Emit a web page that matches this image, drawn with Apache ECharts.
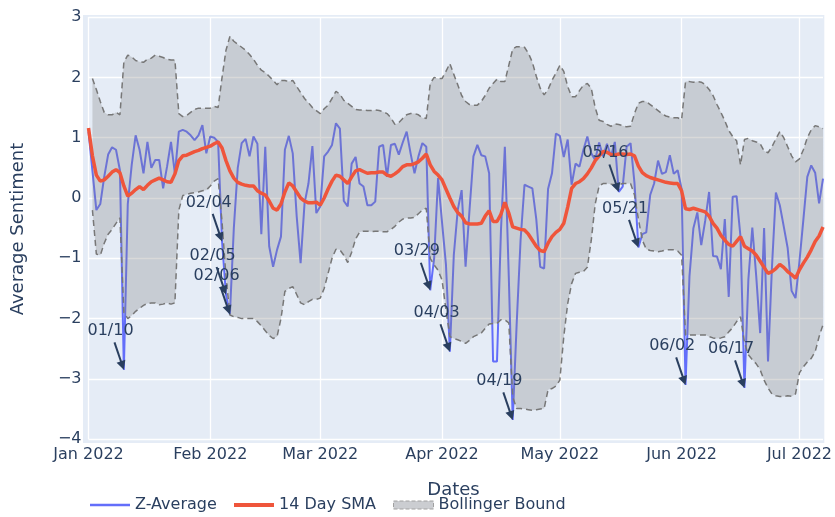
<!DOCTYPE html>
<html><head><meta charset="utf-8">
<script src="https://cdn.jsdelivr.net/npm/echarts@6/dist/echarts.min.js"></script>
<style>html,body{margin:0;padding:0;background:#fff}#c{width:835px;height:517px}</style>
</head><body><div id="c"></div>
<script>
// ---- data (daily, 2022-01-01 .. 2022-07-07) ----
const startYear = 2022, startMonth = 0, startDay = 1, dayCount = 188;

const zAverage = [
 1.1, 0.45, -0.2, -0.1, 0.35, 0.72, 0.84, 0.8, 0.46, -2.85,
 -0.1, 0.55, 1.04, 0.8, 0.41, 0.93, 0.5, 0.63, 0.63, 0.16,
 0.52, 0.93, 0.4, 1.1, 1.13, 1.1, 1.04, 0.96, 1.04, 1.21,
 0.74, 1.02, 1.0, 0.93, -0.72, -1.6, -1.93, -0.5, 0.5, 0.91,
 0.98, 0.69, 1.02, 0.9, -0.6, 0.85, -0.8, -1.14, -0.86, -0.64,
 0.8, 1.03, 0.74, -0.3, -1.08, -0.09, 0.24, 0.86, -0.25, -0.14,
 0.69, 0.77, 0.88, 1.24, 1.15, -0.05, -0.14, 0.57, 0.68, 0.24,
 0.19, -0.12, -0.12, -0.06, 0.85, 0.88, 0.35, 0.88, 0.9, 0.72,
 0.92, 1.1, 0.74, 0.41, 0.69, 0.91, 0.85, -1.53, -1.0, 0.33,
 -0.4, -1.1, -2.55, -0.95, -0.2, 0.13, -1.14, -0.2, 0.69, 0.88,
 0.71, 0.69, 0.41, -2.71, -2.71, -0.55, 0.85, -1.3, -3.68, -2.1,
 -0.7, 0.22, 0.19, 0.16, -0.35, -1.14, -1.17, 0.15, 0.41, 1.07,
 1.03, 0.68, 0.97, 0.22, 0.57, 0.52, 0.8, 1.02, 0.74, 0.63,
 0.92, 0.69, 0.9, 0.69, 0.93, 0.1, 0.19, 0.85, 0.91, 0.25,
 -0.82, -0.6, -0.57, 0.05, 0.24, 0.62, 0.4, 0.43, 0.71, 0.4,
 0.46, 0.15, -3.1, -1.3, -0.5, -0.24, -0.78, -0.38, 0.1, -0.96,
 -0.97, -1.18, -0.35, -1.64, 0.02, 0.03, -0.65, -3.15, -1.35, -0.49,
 -1.3, -2.24, -0.5, -2.71, -1.15, 0.09, -0.12, -0.47, -0.83, -1.54,
 -1.66, -1.05, -0.36, 0.35, 0.54, 0.42, -0.09, 0.32
];

const sma14 = [
 1.16, 0.7, 0.38, 0.28, 0.3, 0.36, 0.43, 0.47, 0.42, 0.2,
 0.03, 0.08, 0.14, 0.19, 0.14, 0.21, 0.27, 0.3, 0.33, 0.3,
 0.27, 0.26, 0.4, 0.62, 0.7, 0.71, 0.74, 0.77, 0.79, 0.82,
 0.84, 0.86, 0.9, 0.93, 0.83, 0.62, 0.45, 0.33, 0.26, 0.23,
 0.21, 0.2, 0.2, 0.12, 0.08, 0.05, -0.05, -0.17, -0.2, -0.1,
 0.1, 0.25, 0.2, 0.1, 0.0, -0.05, -0.08, -0.08, -0.07, -0.12,
 0.0, 0.15, 0.28, 0.38, 0.36, 0.3, 0.24, 0.35, 0.45, 0.47,
 0.44, 0.41, 0.42, 0.42, 0.43, 0.43, 0.38, 0.36, 0.4, 0.45,
 0.52, 0.55, 0.55, 0.57, 0.6, 0.66, 0.73, 0.55, 0.44, 0.38,
 0.3, 0.15, 0.0, -0.14, -0.24, -0.3, -0.41, -0.43, -0.43, -0.43,
 -0.42, -0.3, -0.21, -0.39, -0.39, -0.27, -0.07, -0.25, -0.48, -0.5,
 -0.52, -0.53, -0.6, -0.7, -0.8, -0.87, -0.89, -0.75, -0.64, -0.57,
 -0.52, -0.42, -0.15, 0.16, 0.24, 0.27, 0.32, 0.4, 0.5, 0.62,
 0.7, 0.77, 0.76, 0.72, 0.71, 0.73, 0.73, 0.72, 0.73, 0.7,
 0.53, 0.42, 0.37, 0.34, 0.32, 0.3, 0.28, 0.26, 0.25, 0.24,
 0.24, 0.12, -0.18, -0.19, -0.17, -0.19, -0.21, -0.23, -0.3, -0.42,
 -0.5, -0.62, -0.7, -0.77, -0.8, -0.72, -0.64, -0.8, -0.84, -0.88,
 -0.95, -1.05, -1.15, -1.25, -1.22, -1.17, -1.1, -1.15, -1.22, -1.27,
 -1.33, -1.19, -1.08, -0.98, -0.86, -0.72, -0.63, -0.48
];

const upperBound = [
 null, 1.98, 1.8, 1.6, 1.42, 1.38, 1.38, 1.42, 1.38, 2.25,
 2.37, 2.34, 2.28, 2.26, 2.25, 2.3, 2.32, 2.37, 2.35, 2.33,
 2.3, 2.29, 2.29, 1.4, 1.35, 1.37, 1.42, 1.47, 1.49, 1.49,
 1.49, 1.49, 1.52, 1.5, 2.0, 2.45, 2.68, 2.6, 2.55, 2.5,
 2.45, 2.38, 2.3, 2.2, 2.12, 2.08, 2.02, 1.95, 1.88, 1.95,
 1.95, 1.93, 1.95, 1.85, 1.75, 1.65, 1.58, 1.5, 1.45, 1.4,
 1.48, 1.54, 1.65, 1.77, 1.72, 1.62, 1.57, 1.52, 1.47, 1.46,
 1.46, 1.45, 1.45, 1.46, 1.45, 1.43, 1.4, 1.33, 1.22, 1.25,
 1.32, 1.38, 1.4, 1.4, 1.38, 1.33, 1.32, 1.9, 2.0, 1.98,
 1.98, 2.1, 2.23, 2.05, 1.88, 1.7, 1.6, 1.55, 1.54, 1.54,
 1.6, 1.7, 1.82, 1.9, 1.97, 1.93, 1.93, 2.2, 2.47, 2.51,
 2.51, 2.5, 2.4, 2.25, 2.02, 1.82, 1.71, 1.8, 1.95, 2.07,
 2.2, 2.1, 1.85, 1.68, 1.68, 1.78, 1.87, 1.9, 1.82, 1.5,
 1.29, 1.27, 1.22, 1.19, 1.23, 1.22, 1.2, 1.18, 1.19, 1.4,
 1.57, 1.6, 1.6, 1.55, 1.5, 1.45, 1.4, 1.36, 1.34, 1.33,
 1.33, 1.3, 1.93, 1.93, 1.92, 1.93, 1.92, 1.88, 1.8, 1.7,
 1.55, 1.42, 1.28, 1.12, 1.02, 0.95, 0.55, 0.97, 0.99, 0.95,
 0.93, 0.9, 0.78, 0.75, 0.85, 0.98, 1.1, 1.0, 0.85, 0.7,
 0.6, 0.65, 0.8, 1.0, 1.13, 1.2, 1.18, 1.15
];

const lowerBound = [
 null, -0.2, -0.93, -0.95, -0.75, -0.6, -0.52, -0.42, -0.33, -1.9,
 -2.0, -1.95, -1.88, -1.83, -1.78, -1.75, -1.74, -1.74, -1.77, -1.76,
 -1.74, -1.76, -1.74, -0.2, 0.04, 0.06, 0.08, 0.09, 0.1, 0.12,
 0.13, 0.2, 0.28, 0.32, -0.4, -1.3, -1.94, -1.97, -1.98, -2.0,
 -2.0, -2.0, -2.0, -2.05, -2.12, -2.2, -2.28, -2.33, -2.3, -2.0,
 -1.55, -1.5, -1.47, -1.6, -1.74, -1.77, -1.72, -1.68, -1.68, -1.66,
 -1.5, -1.25, -1.0, -0.85, -0.86, -0.95, -1.07, -0.9, -0.68, -0.57,
 -0.55, -0.55, -0.56, -0.55, -0.55, -0.56, -0.56, -0.52, -0.47, -0.4,
 -0.35, -0.33, -0.33, -0.32, -0.26, -0.2, -0.17, -1.0, -1.11, -1.2,
 -1.36, -1.85, -2.3, -2.33, -2.35, -2.38, -2.41, -2.36, -2.3, -2.27,
 -2.24, -2.16, -2.09, -2.08, -2.08, -2.02, -2.02, -2.07, -3.3, -3.49,
 -3.49, -3.5, -3.51, -3.52, -3.51, -3.5, -3.49, -3.18, -3.16, -3.12,
 -3.02, -2.3, -1.75, -1.42, -1.25, -1.23, -1.22, -1.15, -0.7, -0.1,
 0.2, 0.24, 0.24, 0.23, 0.22, 0.22, 0.24, 0.24, 0.24, 0.05,
 -0.35, -0.7, -0.85, -0.87, -0.88, -0.89, -0.88, -0.86, -0.86, -0.86,
 -0.88, -0.95, -2.27, -2.27, -2.27, -2.27, -2.27, -2.27, -2.3, -2.32,
 -2.33, -2.32, -2.3, -2.22, -2.15, -2.05, -1.97, -2.4, -2.6, -2.68,
 -2.75, -2.85, -3.02, -3.15, -3.25, -3.28, -3.29, -3.29, -3.28, -3.29,
 -3.25, -2.9, -2.8, -2.72, -2.66, -2.55, -2.3, -2.1
];

const annotationDates  = ['2022-01-10','2022-02-04','2022-02-05','2022-02-06','2022-03-29','2022-04-03','2022-04-19','2022-05-16','2022-05-21','2022-06-02','2022-06-17'];
const annotationLabels = ['01/10','02/04','02/05','02/06','03/29','04/03','04/19','05/16','05/21','06/02','06/17'];

const monthTickDates  = ['2022-01-01','2022-02-01','2022-03-01','2022-04-01','2022-05-01','2022-06-01','2022-07-01'];
const monthTickLabels = ['Jan 2022','Feb 2022','Mar 2022','Apr 2022','May 2022','Jun 2022','Jul 2022'];
const yTickValues = [-4, -3, -2, -1, 0, 1, 2, 3];

// ---- categories ----
const dates = [];
for (let i = 0; i < dayCount; i++) {
  dates.push(new Date(Date.UTC(startYear, startMonth, startDay + i)).toISOString().slice(0, 10));
}
const tickMap = {};
monthTickDates.forEach((d, i) => { tickMap[d] = monthTickLabels[i]; });

const FONT = '"DejaVu Sans", Verdana, sans-serif';
const TXT = '#2a3f5f';
const BLUE = '#636efa', RED = '#EF553B';

const chart = echarts.init(document.getElementById('c'), null, {renderer: 'canvas'});

const legendText = {color: TXT, fontFamily: FONT, fontSize: 16};
const option = {
  animation: false,
  backgroundColor: '#ffffff',
  grid: {left: 88.5, right: 10.7, top: 17.1, bottom: 77.8, containLabel: false},
  xAxis: {
    type: 'category', data: dates, boundaryGap: false,
    axisLine: {show: false}, axisTick: {show: false},
    axisLabel: {
      interval: (idx, val) => tickMap[val] !== undefined,
      formatter: (val) => tickMap[val] || '',
      color: TXT, fontFamily: FONT, fontSize: 16, margin: 8
    },
    splitLine: {show: true, interval: (idx, val) => tickMap[val] !== undefined,
      lineStyle: {color: '#ffffff', width: 1.3}}
  },
  yAxis: {
    type: 'value', min: yTickValues[0], max: yTickValues[yTickValues.length - 1], interval: 1,
    axisLine: {show: false}, axisTick: {show: false},
    axisLabel: {formatter: (v) => (v < 0 ? '\u2212' + Math.abs(v) : String(v)),
      color: TXT, fontFamily: FONT, fontSize: 16, margin: 7},
    splitLine: {show: true, lineStyle: {color: '#ffffff', width: 1.3}}
  },
  legend: [
    {data: [{name: 'Z-Average', icon: 'rect'}], left: 90, top: 497, padding: 0,
     itemWidth: 40, itemHeight: 2.5, itemGap: 0, selectedMode: false, textStyle: legendText,
     itemStyle: {color: BLUE}},
    {data: [{name: '14 Day SMA', icon: 'rect'}], left: 234, top: 497, padding: 0,
     itemWidth: 40, itemHeight: 4, itemGap: 0, selectedMode: false, textStyle: legendText,
     itemStyle: {color: RED}},
    {data: [{name: 'Bollinger Bound', icon: 'rect'}], left: 393, top: 497, padding: 0,
     itemWidth: 40, itemHeight: 8, itemGap: 0, selectedMode: false, textStyle: legendText,
     itemStyle: {color: '#cbcdd1', borderColor: '#a0a0a0', borderWidth: 1, borderType: 'dashed'}}
  ],
  graphic: [
    {id: 'plotbg', type: 'rect', z: -100, silent: true,
     shape: {x: 83, y: 15, width: 741.3, height: 428}, style: {fill: '#E5ECF6'}},
    {id: 'ytitle', type: 'text', x: 18, y: 229, rotation: Math.PI / 2, silent: true,
     style: {text: 'Average Sentiment', fill: TXT, font: '18px ' + FONT, textAlign: 'center', textVerticalAlign: 'middle'}},
    {id: 'xtitle', type: 'text', x: 453.5, y: 490, silent: true,
     style: {text: 'Dates', fill: TXT, font: '18px ' + FONT, textAlign: 'center', textVerticalAlign: 'middle'}}
  ],
  series: [
    {name: 'Z-Average', type: 'line', data: zAverage, symbol: 'none', z: 2,
     lineStyle: {color: BLUE, width: 2}, itemStyle: {color: BLUE}},
    {name: 'Bollinger Bound', type: 'custom', z: 3, silent: true,
     itemStyle: {color: '#cbcdd1'},
     data: [[0, 0]],
     renderItem: function (params, api) {
       const up = [], lo = [];
       for (let i = 0; i < dayCount; i++) {
         if (upperBound[i] == null || lowerBound[i] == null) continue;
         up.push(api.coord([i, upperBound[i]]));
         lo.push(api.coord([i, lowerBound[i]]));
       }
       return {type: 'polygon', shape: {points: up.concat(lo.reverse())},
               style: {fill: 'rgba(128,128,128,0.3)', stroke: 'none'}};
     }},
    {name: 'Upper', type: 'line', data: upperBound, symbol: 'none', z: 4, connectNulls: false,
     lineStyle: {color: '#777777', width: 1.5, type: [6, 4]}},
    {name: 'Lower', type: 'line', data: lowerBound, symbol: 'none', z: 4, connectNulls: false,
     lineStyle: {color: '#777777', width: 1.5, type: [6, 4]}},
    {name: '14 Day SMA', type: 'line', data: sma14, symbol: 'none', z: 5,
     lineStyle: {color: RED, width: 3.5}, itemStyle: {color: RED}}
  ]
};
chart.setOption(option);

// ---- annotations (arrow tip at the Z-Average point) ----
const ann = [];
const AX = -13.3, AY = -39;          // text centre offset from point (px)
const len = Math.sqrt(AX * AX + AY * AY);
const ux = -AX / len, uy = -AY / len; // unit vector text -> point
annotationDates.forEach((d, k) => {
  const idx = dates.indexOf(d);
  const p = chart.convertToPixel({gridIndex: 0}, [idx, zAverage[idx]]);
  const tx = p[0], ty = p[1];
  const cx = tx + AX, cy = ty + AY;
  const startX = cx + (11.5 / uy) * ux, startY = cy + 11.5;
  const headL = 9, headW = 4.6;
  const bx = tx - ux * headL, by = ty - uy * headL;
  const nx = -uy, ny = ux;
  ann.push({id: 'at' + k, type: 'text', x: cx, y: cy, z: 50, silent: true,
    style: {text: annotationLabels[k], fill: TXT, font: '16px ' + FONT, textAlign: 'center', textVerticalAlign: 'middle'}});
  ann.push({id: 'al' + k, type: 'line', z: 50, silent: true,
    shape: {x1: startX, y1: startY, x2: bx + ux, y2: by + uy},
    style: {stroke: TXT, lineWidth: 2}});
  ann.push({id: 'ah' + k, type: 'polygon', z: 50, silent: true,
    shape: {points: [[tx, ty], [bx + nx * headW, by + ny * headW], [bx - nx * headW, by - ny * headW]]},
    style: {fill: TXT}});
});
chart.setOption({graphic: ann});
</script>
</body></html>
